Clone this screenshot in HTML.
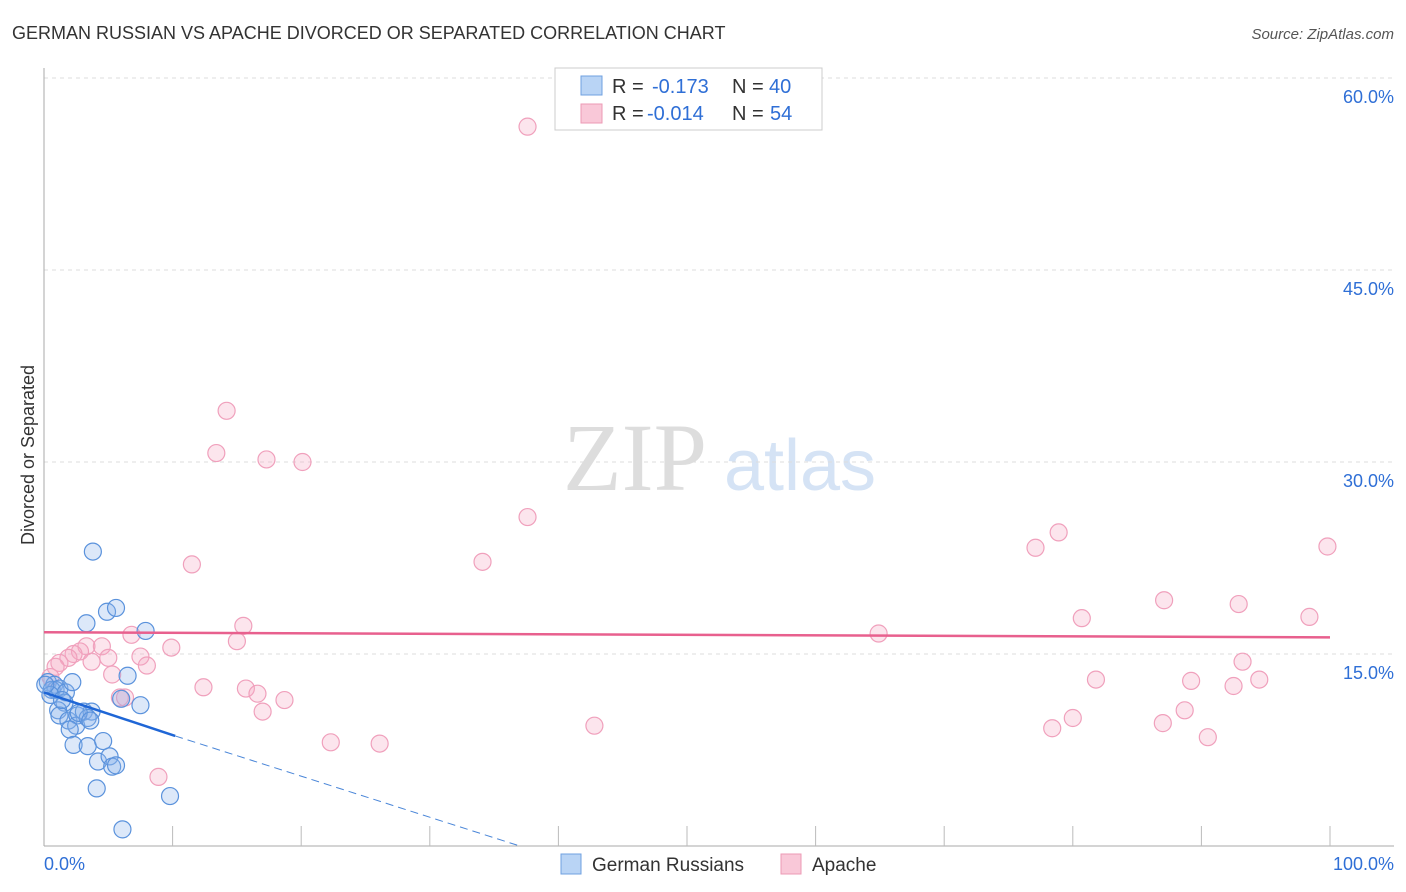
<!DOCTYPE html>
<html><head><meta charset="utf-8">
<style>
body{margin:0;background:#fff;font-family:"Liberation Sans",sans-serif;}
svg{display:block}
</style></head>
<body>
<svg id="chart" width="1406" height="892">
<text x="12" y="39" font-size="18" fill="#333">GERMAN RUSSIAN VS APACHE DIVORCED OR SEPARATED CORRELATION CHART</text>
<text x="1394" y="39" font-size="15" fill="#555" font-style="italic" text-anchor="end">Source: ZipAtlas.com</text>
<text x="34" y="455" font-size="18" fill="#333" text-anchor="middle" transform="rotate(-90 34 455)">Divorced or Separated</text>
<g><text x="635" y="490" font-size="96" fill="#ddd" font-family="Liberation Serif" text-anchor="middle">ZIP</text><text x="800" y="490" font-size="72" fill="#d5e3f5" text-anchor="middle">atlas</text></g>
<g id="grid"></g><g id="pts"></g><g id="lines"></g>
<g>
<rect x="555" y="68" width="267" height="62" fill="#fff" stroke="#ccc"/>
<rect x="581" y="76" width="21" height="19" fill="#b9d4f5" stroke="#6fa0e0"/>
<rect x="581" y="104" width="21" height="19" fill="#f9c8d8" stroke="#ec9ab5"/>
<g font-size="20" fill="#333">
<text x="612" y="93">R =</text><text x="652" y="93" fill="#2f6fd6">-0.173</text><text x="732" y="93">N =</text><text x="769" y="93" fill="#2f6fd6">40</text>
<text x="612" y="120">R =</text><text x="647" y="120" fill="#2f6fd6">-0.014</text><text x="732" y="120">N =</text><text x="770" y="120" fill="#2f6fd6">54</text>
</g>
</g>
<g>
<rect x="561" y="854" width="20" height="20" fill="#b9d4f5" stroke="#6fa0e0"/>
<text x="592" y="871" font-size="19" fill="#333">German Russians</text>
<rect x="781" y="854" width="20" height="20" fill="#f9c8d8" stroke="#ec9ab5"/>
<text x="812" y="871" font-size="19" fill="#333">Apache</text>
</g>
<text x="44" y="870" font-size="18" fill="#2f6fd6">0.0%</text>
<text x="1394" y="870" font-size="18" fill="#2f6fd6" text-anchor="end">100.0%</text>
</svg>
<script>
const yTicks=[15,30,45,60];
const blueX=[3.8,3.3,4.9,5.6,7.9,6.5,7.5,6.0,0.3,0.8,0.9,0.6,1.2,1.7,2.2,1.6,1.1,1.2,1.9,2.6,2.5,3.1,3.7,3.4,2.0,2.3,3.4,4.6,4.2,5.1,5.3,5.6,4.1,9.8,6.1,2.7,3.6,0.5,1.4,0.1];
const blueY=[23.0,17.4,18.3,18.6,16.8,13.3,11.0,11.5,12.8,12.6,12.2,12.2,12.3,12.0,12.8,11.2,10.6,10.2,9.8,10.2,9.4,10.5,10.5,10.0,9.1,7.9,7.8,8.2,6.6,7.0,6.2,6.3,4.5,3.9,1.3,10.4,9.8,11.8,11.4,12.6];
const pinkX=[37.6,14.2,13.4,17.3,20.1,37.6,34.1,11.5,77.1,78.9,99.8,87.1,92.9,98.4,80.7,64.9,15.5,6.8,15.0,9.9,4.5,3.3,2.8,2.3,1.9,1.2,0.9,0.5,3.7,5.0,5.3,7.5,8.0,12.4,15.7,16.6,5.9,6.3,18.7,17.0,81.8,89.2,92.5,94.5,93.2,88.7,87.0,80.0,78.4,90.5,42.8,22.3,26.1,8.9];
const pinkY=[56.2,34.0,30.7,30.2,30.0,25.7,22.2,22.0,23.3,24.5,23.4,19.2,18.9,17.9,17.8,16.6,17.2,16.5,16.0,15.5,15.6,15.6,15.2,15.0,14.7,14.3,14.0,13.2,14.4,14.7,13.4,14.8,14.1,12.4,12.3,11.9,11.6,11.6,11.4,10.5,13.0,12.9,12.5,13.0,14.4,10.6,9.6,10.0,9.2,8.5,9.4,8.1,8.0,5.4];
const blueFit=[[0,12.0],[10.2,8.6],[37,0]];
const pinkFit=[[0,16.7],[100,16.3]];
const X=v=>44+v*12.86, Y=v=>846-v*12.8;
const NS='http://www.w3.org/2000/svg';
function mk(t,a,p){const e=document.createElementNS(NS,t);for(const k in a)e.setAttribute(k,a[k]);p.appendChild(e);return e;}
const grid=document.getElementById('grid');
yTicks.forEach(t=>{
 const l=mk('line',{x1:44,x2:1394,y1:Y(t),y2:Y(t),stroke:'#ddd','stroke-dasharray':'4,4'},grid);
 
 
 const tx=mk('text',{x:1394,y:Y(t)+25,'font-size':18,fill:'#2f6fd6','text-anchor':'end'},grid);
 tx.textContent=t.toFixed(1)+'%';
 
 
});
mk('line',{x1:44,x2:44,y1:68,y2:846,stroke:'#aaa'},grid);
mk('line',{x1:44,x2:1394,y1:846,y2:846,stroke:'#aaa'},grid);
for(let i=1;i<=10;i++){mk('line',{x1:44+i*128.6,x2:44+i*128.6,y1:826,y2:846,stroke:'#bbb'},grid);}
const pts=document.getElementById('pts');
pinkX.forEach((v,i)=>{const c=mk('circle',{cx:X(v),cy:Y(pinkY[i]),r:8.5,fill:'rgba(246,170,195,0.3)',stroke:'#f0a0bc','stroke-width':1.2},pts);
 
 });
blueX.forEach((v,i)=>{const c=mk('circle',{cx:X(v),cy:Y(blueY[i]),r:8.5,fill:'rgba(140,180,235,0.3)',stroke:'#5a92dc','stroke-width':1.2},pts);
 
 });
const lines=document.getElementById('lines');
let a=mk('line',{x1:X(pinkFit[0][0]),y1:Y(pinkFit[0][1]),x2:X(pinkFit[1][0]),y2:Y(pinkFit[1][1]),stroke:'#e8608e','stroke-width':2.5},lines);


let b=mk('line',{x1:X(blueFit[0][0]),y1:Y(blueFit[0][1]),x2:X(blueFit[1][0]),y2:Y(blueFit[1][1]),stroke:'#1f66d6','stroke-width':2.5},lines);


let d=mk('line',{x1:X(blueFit[1][0]),y1:Y(blueFit[1][1]),x2:X(blueFit[2][0]),y2:Y(blueFit[2][1]),stroke:'#4a86d8','stroke-width':1,'stroke-dasharray':'8,5'},lines);


</script>
</body></html>
